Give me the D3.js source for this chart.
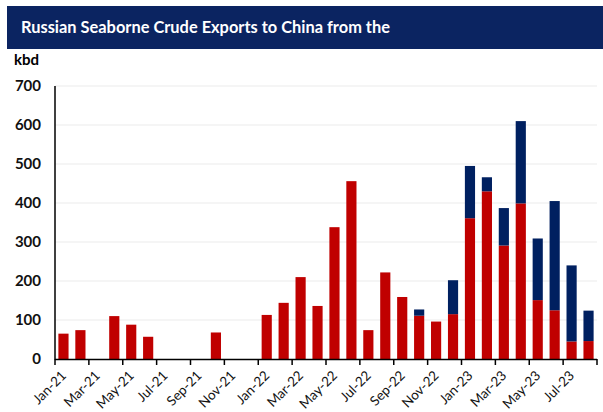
<!DOCTYPE html>
<html><head><meta charset="utf-8">
<script src="https://cdn.jsdelivr.net/npm/d3@7"></script>
<style>body{margin:0;background:#fff}svg{display:block}</style>
</head><body>
<svg id="c" width="603" height="412"></svg>
<script>
const months = ["Jan-21","Feb-21","Mar-21","Apr-21","May-21","Jun-21","Jul-21","Aug-21","Sep-21","Oct-21","Nov-21","Dec-21",
"Jan-22","Feb-22","Mar-22","Apr-22","May-22","Jun-22","Jul-22","Aug-22","Sep-22","Oct-22","Nov-22","Dec-22",
"Jan-23","Feb-23","Mar-23","Apr-23","May-23","Jun-23","Jul-23","Aug-23"];
const redSeries = [65,74,0,110,88,57,0,0,0,68,0,0,
113,144,210,136,338,456,74,222,159,111,96,115,
361,430,291,399,151,125,45,46];
const blueSeries = [0,0,0,0,0,0,0,0,0,0,0,0,
0,0,0,0,0,0,0,0,0,16,0,87,
134,36,96,211,158,280,195,78];
const yTicks = [0,100,200,300,400,500,600,700];
const titleText = "Russian Seaborne Crude Exports to China from the";
const unitText = "kbd";

const svg = d3.select("#c");
const L=55, R=597, T=86, B=359;
const x = d3.scaleBand().domain(months).range([L,R]).paddingInner(0.4).paddingOuter(0.2);
const y = d3.scaleLinear().domain([0,700]).range([B,T]);

// title band
svg.append("rect").attr("x",7).attr("y",6).attr("width",596).attr("height",43).attr("fill","#0b2461");
svg.append("text").attr("x",21).attr("y",33).attr("fill","#fff")
  .attr("font-family","Lato").attr("font-weight","bold").attr("font-size",16.4).text(titleText);
svg.append("text").attr("x",14).attr("y",65).attr("fill","#000")
  .attr("font-family","Lato").attr("font-weight","bold").attr("font-size",15).text(unitText);

// gridlines
svg.append("g").selectAll("line").data(yTicks.filter(d=>d>0)).join("line")
  .attr("x1",L).attr("x2",R).attr("y1",d=>y(d)).attr("y2",d=>y(d))
  .attr("stroke","#ececec").attr("stroke-width",1.2);

// y labels
svg.append("g").selectAll("text").data(yTicks).join("text")
  .attr("x",41).attr("y",d=>y(d)).attr("dy","0.36em").attr("text-anchor","end")
  .attr("font-family","Lato").attr("font-weight","bold").attr("font-size",15).attr("fill","#111")
  .text(d=>d);

// bars
const data = months.map((m,i)=>({m, r:redSeries[i], b:blueSeries[i]}));
svg.append("g").selectAll("rect").data(data.filter(d=>d.r>0)).join("rect")
  .attr("x",d=>x(d.m)).attr("width",x.bandwidth())
  .attr("y",d=>y(d.r)).attr("height",d=>y(0)-y(d.r)).attr("fill","#c00000");
svg.append("g").selectAll("rect").data(data.filter(d=>d.b>0)).join("rect")
  .attr("x",d=>x(d.m)).attr("width",x.bandwidth())
  .attr("y",d=>y(d.r+d.b)).attr("height",d=>y(d.r)-y(d.r+d.b)).attr("fill","#002060");

// axes lines
svg.append("line").attr("x1",L).attr("x2",L).attr("y1",T).attr("y2",B+0.5).attr("stroke","#000").attr("stroke-width",1.5);
svg.append("line").attr("x1",L).attr("x2",R).attr("y1",B+0.5).attr("y2",B+0.5).attr("stroke","#000").attr("stroke-width",1.5);
const tickIdx = d3.range(0, months.length+1, 2);
svg.append("g").selectAll("line").data(tickIdx).join("line")
  .attr("x1",i=>L+i*(R-L)/months.length).attr("x2",i=>L+i*(R-L)/months.length)
  .attr("y1",B).attr("y2",B+6).attr("stroke","#000").attr("stroke-width",1.5);

// x labels
svg.append("g").selectAll("text").data(months.filter((m,i)=>i%2===0)).join("text")
  .attr("transform",m=>`translate(${x(m)+x.bandwidth()/2+3.5},${B+17.5}) rotate(-45)`)
  .attr("text-anchor","end")
  .attr("font-family","Lato").attr("font-size",13.5).attr("fill","#111")
  .text(m=>m);
</script>
</body></html>
